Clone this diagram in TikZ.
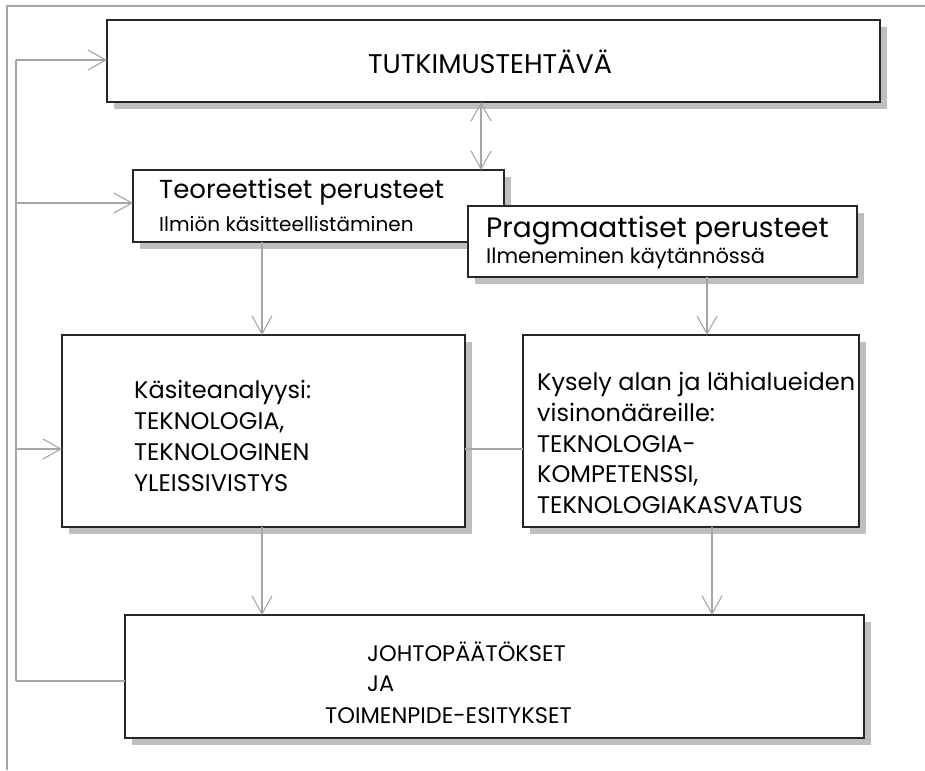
\documentclass[tikz,border=0pt]{standalone}
\usepackage{fontspec}
\setmainfont{Poppins}
\usetikzlibrary{arrows.meta,shadows}
\begin{document}
\begin{tikzpicture}[x=1pt,y=-1pt,
  box/.style={draw=black!85, line width=1.8pt, fill=white, outer sep=0pt, inner sep=0pt,
    drop shadow={shadow xshift=7pt, shadow yshift=-7pt, fill=black!25, opacity=1}},
  conn/.style={draw=black!35, line width=1.1pt},
  barb/.tip={Straight Barb[length=18pt, width=20pt, line width=1.1pt]},
  frame/.style={draw=black!35, line width=1.3pt},
  txt/.style={inner sep=0pt, anchor=west, align=left, font=\fontsize{24}{30.8}\selectfont},
  big/.style={font=\fontsize{28}{30}\selectfont},
  small/.style={font=\fontsize{20}{22}\selectfont}]
\useasboundingbox (0,0) rectangle (925,770);
% page frame
\draw[frame] (7,770) -- (7,6) -- (925,6);

% boxes
\node[box, minimum width=773pt, minimum height=82pt] (b1) at (493.5,61) {};
\node[box, minimum width=371pt, minimum height=72pt] (b2) at (318.5,206) {};
\node[box, minimum width=389pt, minimum height=71pt] (b3) at (662.5,241.5) {};
\node[box, minimum width=403pt, minimum height=192pt] (b4) at (263.5,431) {};
\node[box, minimum width=336pt, minimum height=192pt] (b5) at (691,431) {};
\node[box, minimum width=739pt, minimum height=123pt] (b6) at (494.5,676.5) {};

% texts
\node[inner sep=0pt, font=\fontsize{27}{29}\selectfont] (t1) at (490,62) {TUTKIMUSTEHTÄVÄ};
\node[txt, big, font=\fontsize{26}{28}\selectfont] (t2a) at (159,192) {Teoreettiset perusteet};
\node[txt, small] (t2b) at (159,224) {Ilmiön käsitteellistäminen};
\node[txt, big] (t3a) at (486,231) {Pragmaattiset perusteet};
\node[txt, small, font=\fontsize{21}{23}\selectfont] (t3b) at (486,258) {Ilmeneminen käytännössä};
\node[txt] (t4) at (134,436) {Käsiteanalyysi:\\TEKNOLOGIA,\\TEKNOLOGINEN\\YLEISSIVISTYS};
\node[txt] (t5) at (537,443) {Kysely alan ja lähialueiden\\visinonääreille:\\TEKNOLOGIA-\\KOMPETENSSI,\\TEKNOLOGIAKASVATUS};
\node[txt, font=\fontsize{22.5}{25}\selectfont] (t6a) at (367,652) {JOHTOPÄÄTÖKSET};
\node[txt, font=\fontsize{22.5}{25}\selectfont] (t6b) at (367,684) {JA};
\node[txt, font=\fontsize{22.5}{25}\selectfont] (t6c) at (325,716) {TOIMENPIDE-ESITYKSET};

% connector positions
\coordinate (fb) at (16,0);
\coordinate (c12) at (481,0);
\coordinate (c24) at (262,0);
\coordinate (c35) at (707,0);
\coordinate (c56) at (712,0);
\coordinate (y4) at (0,449);
\coordinate (y6) at (0,681);
\coordinate (y1) at (0,60);
\coordinate (y2) at (0,203);

% feedback loop
\draw[conn] (fb |- y6) -- (fb |- y1);
\draw[conn, -barb] (fb |- y1) -- (b1.west |- y1);
\draw[conn, -barb] (fb |- y2) -- (b2.west |- y2);
\draw[conn, -barb] (fb |- y4) -- (b4.west |- y4);
\draw[conn] (fb |- y6) -- (b6.west |- y6);

% main flow
\draw[conn, barb-barb] (b1.south -| c12) -- (b2.north -| c12);
\draw[conn, -barb] (b2.south -| c24) -- (b4.north -| c24);
\draw[conn, -barb] (b3.south -| c35) -- (b5.north -| c35);
\draw[conn, -barb] (b4.south -| c24) -- (b6.north -| c24);
\draw[conn, -barb] (b5.south -| c56) -- (b6.north -| c56);
\draw[conn] (b4.east |- y4) -- (b5.west |- y4);
\end{tikzpicture}
\end{document}
